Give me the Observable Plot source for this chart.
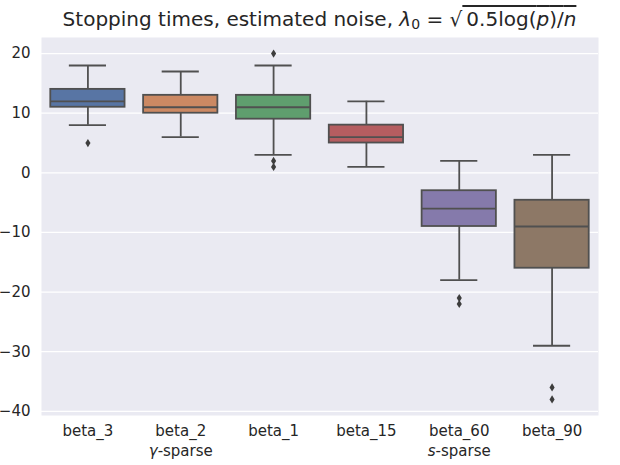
<!DOCTYPE html>
<html><head><meta charset="utf-8">
<script src="https://cdn.jsdelivr.net/npm/d3@7"></script>
<script src="https://cdn.jsdelivr.net/npm/@observablehq/plot@0.6"></script>
<style>
body{margin:0;background:#fff;font-family:"DejaVu Sans",sans-serif;}
#wrap{position:relative;width:620px;height:465px;}
#title{position:absolute;top:7px;left:41px;width:557px;text-align:center;font-size:20px;line-height:24px;color:#262626;white-space:nowrap;z-index:2;}
#title sub{font-size:14px;vertical-align:-3px;line-height:0;}
.ov{text-decoration:overline;}
</style>
</head><body>
<div id="wrap">
<div id="title">Stopping times, estimated noise, <i>λ</i><sub>0</sub> = √<span class="ov">&thinsp;0.5log(<i>p</i>)/<i>n</i></span></div>
</div>
<script>
const categories = ["beta_3","beta_2","beta_1","beta_15","beta_60","beta_90"];
const groupLabels = ["", "γ-sparse", "", "", "s-sparse", ""];
const q1 = [11, 10, 9, 5, -9, -16];
const medians = [12, 11, 11, 6, -6, -9];
const q3 = [14, 13, 13, 8, -3, -4.6];
const whiskerLow = [8, 6, 3, 1, -18, -29];
const whiskerHigh = [18, 17, 18, 12, 2, 3];
const outlierCategory = ["beta_3","beta_1","beta_1","beta_1","beta_60","beta_60","beta_90","beta_90"];
const outlierValues = [5, 20, 2, 1, -21, -22, -36, -38];
const boxColors = ["#5875a4","#cc8963","#5f9e6e","#b55d60","#857aab","#8d7866"];
const yTicks = [-40, -30, -20, -10, 0, 10, 20];

const boxes = categories.map((c, i) => ({cat: c, q1: q1[i], med: medians[i], q3: q3[i], lo: whiskerLow[i], hi: whiskerHigh[i], color: boxColors[i]}));
const outliers = outlierCategory.map((c, i) => ({cat: c, v: outlierValues[i]}));

const thinDiamond = {
  draw(ctx, size) {
    const r = Math.sqrt(size) / 2;
    ctx.moveTo(0, -r * 1.6);
    ctx.lineTo(r, 0);
    ctx.lineTo(0, r * 1.6);
    ctx.lineTo(-r, 0);
    ctx.closePath();
  }
};

const W = 620, H = 465, ML = 41, MR = 22;
const step = (W - ML - MR) / categories.length;
const bw = step * 0.8;
const gray = "#505050";
const lw = 1.8;

const chart = Plot.plot({
  width: W, height: H,
  marginLeft: ML, marginRight: MR, marginTop: 37, marginBottom: 50,
  style: {fontFamily: "DejaVu Sans", fontSize: "15px", color: "#262626", background: "transparent"},
  x: {domain: categories, paddingInner: 0.2, paddingOuter: 0.1, round: false, label: null},
  y: {domain: [-40.7, 22.7], label: null},
  marks: [
    Plot.frame({fill: "#eaeaf2", stroke: null}),
    Plot.gridY(yTicks, {stroke: "white", strokeOpacity: 1, strokeWidth: 1.2}),
    Plot.axisY(yTicks, {tickSize: 0, tickPadding: 11, fontSize: 15, label: null}),
    Plot.axisX({tickSize: 0, tickPadding: 10, fontSize: 15, label: null}),
    Plot.ruleX(boxes, {x: "cat", y1: "lo", y2: "hi", stroke: gray, strokeWidth: lw}),
    Plot.tickY(boxes, {x: "cat", y: "lo", stroke: gray, strokeWidth: lw, insetLeft: bw / 4, insetRight: bw / 4}),
    Plot.tickY(boxes, {x: "cat", y: "hi", stroke: gray, strokeWidth: lw, insetLeft: bw / 4, insetRight: bw / 4}),
    Plot.barY(boxes, {x: "cat", y1: "q1", y2: "q3", fill: "color", stroke: gray, strokeWidth: lw}),
    Plot.tickY(boxes, {x: "cat", y: "med", stroke: gray, strokeWidth: lw}),
    Plot.dot(outliers, {x: "cat", y: "v", symbol: thinDiamond, r: 2.9, fill: "#3d3d3d", stroke: null}),
    Plot.text(categories.map((c, i) => ({cat: c, g: groupLabels[i]})).filter(d => d.g), {
      x: "cat", text: "g", frameAnchor: "bottom", dy: 40, fontSize: 15, fill: "#262626", className: "grp"
    })
  ]
});
document.getElementById("wrap").appendChild(chart);
chart.style.position = "absolute"; chart.style.left = "0"; chart.style.top = "0";

// italicise the math symbol in the group labels
d3.select(chart).selectAll("g.grp text").each(function() {
  const t = d3.select(this);
  const s = t.text();
  const first = s.split("-")[0];
  t.text(null);
  t.append("tspan").attr("font-style", "italic").text(first);
  t.append("tspan").text("-" + s.slice(first.length + 1));
});
</script>
</body></html>
